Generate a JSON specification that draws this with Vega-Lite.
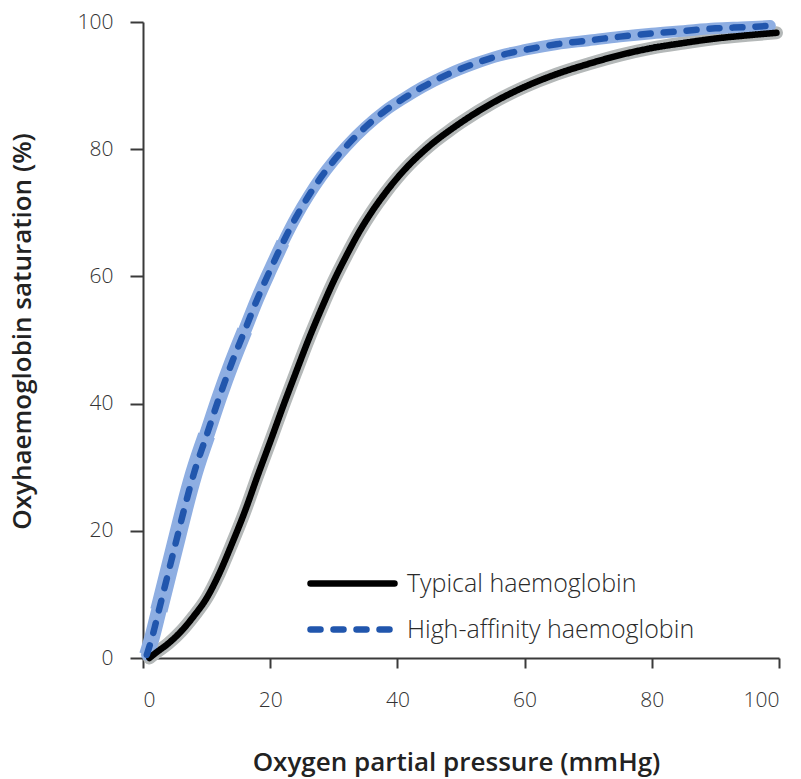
{
  "$schema": "https://vega.github.io/schema/vega-lite/v6.json",
  "width": 636,
  "height": 636,
  "autosize": {"type": "none"},
  "padding": {"left": 143, "top": 22, "right": 22, "bottom": 121},
  "background": "white",
  "config": {
    "view": {"stroke": null},
    "font": "Open Sans",
    "axis": {
      "grid": false,
      "domainColor": "#3a3a3a",
      "domainWidth": 2,
      "tickColor": "#3a3a3a",
      "tickWidth": 2,
      "labelColor": "#333333",
      "labelFont": "Open Sans",
      "labelFontSize": 21,
      "labelFontWeight": 300,
      "titleFont": "Open Sans",
      "titleFontSize": 26,
      "titleFontWeight": 600,
      "titleColor": "#222222"
    }
  },
  "data": {
    "values": [
      {"series": "Typical haemoglobin", "pO2": 1, "sat": 0},
      {"series": "Typical haemoglobin", "pO2": 2, "sat": 0.8},
      {"series": "Typical haemoglobin", "pO2": 4, "sat": 2.3},
      {"series": "Typical haemoglobin", "pO2": 6, "sat": 4.2},
      {"series": "Typical haemoglobin", "pO2": 8, "sat": 6.6},
      {"series": "Typical haemoglobin", "pO2": 10, "sat": 9.4},
      {"series": "Typical haemoglobin", "pO2": 12, "sat": 13.3},
      {"series": "Typical haemoglobin", "pO2": 14, "sat": 18},
      {"series": "Typical haemoglobin", "pO2": 16, "sat": 23},
      {"series": "Typical haemoglobin", "pO2": 18, "sat": 28.6},
      {"series": "Typical haemoglobin", "pO2": 20, "sat": 34},
      {"series": "Typical haemoglobin", "pO2": 22, "sat": 39.5},
      {"series": "Typical haemoglobin", "pO2": 24, "sat": 44.8},
      {"series": "Typical haemoglobin", "pO2": 26, "sat": 50},
      {"series": "Typical haemoglobin", "pO2": 28, "sat": 54.8},
      {"series": "Typical haemoglobin", "pO2": 30, "sat": 59.3},
      {"series": "Typical haemoglobin", "pO2": 32, "sat": 63.3},
      {"series": "Typical haemoglobin", "pO2": 34, "sat": 67},
      {"series": "Typical haemoglobin", "pO2": 36, "sat": 70.2},
      {"series": "Typical haemoglobin", "pO2": 38, "sat": 73},
      {"series": "Typical haemoglobin", "pO2": 40, "sat": 75.5},
      {"series": "Typical haemoglobin", "pO2": 42, "sat": 77.7},
      {"series": "Typical haemoglobin", "pO2": 44, "sat": 79.6},
      {"series": "Typical haemoglobin", "pO2": 46, "sat": 81.3},
      {"series": "Typical haemoglobin", "pO2": 48, "sat": 82.8},
      {"series": "Typical haemoglobin", "pO2": 50, "sat": 84.2},
      {"series": "Typical haemoglobin", "pO2": 55, "sat": 87.3},
      {"series": "Typical haemoglobin", "pO2": 60, "sat": 89.8},
      {"series": "Typical haemoglobin", "pO2": 65, "sat": 91.8},
      {"series": "Typical haemoglobin", "pO2": 70, "sat": 93.4},
      {"series": "Typical haemoglobin", "pO2": 75, "sat": 94.8},
      {"series": "Typical haemoglobin", "pO2": 80, "sat": 95.9},
      {"series": "Typical haemoglobin", "pO2": 85, "sat": 96.7},
      {"series": "Typical haemoglobin", "pO2": 90, "sat": 97.4},
      {"series": "Typical haemoglobin", "pO2": 95, "sat": 97.9},
      {"series": "Typical haemoglobin", "pO2": 99.6, "sat": 98.3},
      {"series": "High-affinity haemoglobin", "pO2": 0.6, "sat": 0.5},
      {"series": "High-affinity haemoglobin", "pO2": 1.5, "sat": 3.5},
      {"series": "High-affinity haemoglobin", "pO2": 2.5, "sat": 7.5},
      {"series": "High-affinity haemoglobin", "pO2": 3.5, "sat": 11.5},
      {"series": "High-affinity haemoglobin", "pO2": 4.5, "sat": 15.5},
      {"series": "High-affinity haemoglobin", "pO2": 5.5, "sat": 19.5},
      {"series": "High-affinity haemoglobin", "pO2": 6.5, "sat": 23.5},
      {"series": "High-affinity haemoglobin", "pO2": 8, "sat": 29},
      {"series": "High-affinity haemoglobin", "pO2": 10, "sat": 35},
      {"series": "High-affinity haemoglobin", "pO2": 12, "sat": 41},
      {"series": "High-affinity haemoglobin", "pO2": 14, "sat": 46.5},
      {"series": "High-affinity haemoglobin", "pO2": 16, "sat": 51.5},
      {"series": "High-affinity haemoglobin", "pO2": 18, "sat": 56.5},
      {"series": "High-affinity haemoglobin", "pO2": 20, "sat": 61},
      {"series": "High-affinity haemoglobin", "pO2": 22, "sat": 65.3},
      {"series": "High-affinity haemoglobin", "pO2": 24, "sat": 69.2},
      {"series": "High-affinity haemoglobin", "pO2": 26, "sat": 72.6},
      {"series": "High-affinity haemoglobin", "pO2": 28, "sat": 75.6},
      {"series": "High-affinity haemoglobin", "pO2": 30, "sat": 78.2},
      {"series": "High-affinity haemoglobin", "pO2": 32, "sat": 80.5},
      {"series": "High-affinity haemoglobin", "pO2": 35, "sat": 83.5},
      {"series": "High-affinity haemoglobin", "pO2": 38, "sat": 86},
      {"series": "High-affinity haemoglobin", "pO2": 41, "sat": 88},
      {"series": "High-affinity haemoglobin", "pO2": 44, "sat": 89.8},
      {"series": "High-affinity haemoglobin", "pO2": 48, "sat": 91.8},
      {"series": "High-affinity haemoglobin", "pO2": 52, "sat": 93.4},
      {"series": "High-affinity haemoglobin", "pO2": 56, "sat": 94.7},
      {"series": "High-affinity haemoglobin", "pO2": 60, "sat": 95.6},
      {"series": "High-affinity haemoglobin", "pO2": 65, "sat": 96.5},
      {"series": "High-affinity haemoglobin", "pO2": 70, "sat": 97.1},
      {"series": "High-affinity haemoglobin", "pO2": 75, "sat": 97.7},
      {"series": "High-affinity haemoglobin", "pO2": 80, "sat": 98.2},
      {"series": "High-affinity haemoglobin", "pO2": 85, "sat": 98.6},
      {"series": "High-affinity haemoglobin", "pO2": 90, "sat": 99},
      {"series": "High-affinity haemoglobin", "pO2": 95, "sat": 99.2},
      {"series": "High-affinity haemoglobin", "pO2": 98.6, "sat": 99.4}
    ]
  },
  "encoding": {
    "x": {
      "field": "pO2", "type": "quantitative",
      "scale": {"domain": [0, 100], "nice": false},
      "axis": {
        "title": "Oxygen partial pressure (mmHg)",
        "values": [0, 20, 40, 60, 80, 100],
        "tickSize": 10,
        "labelPadding": 21,
        "titleX": 313,
        "titleY": 104,
        "titleBaseline": "middle",
        "titleAlign": "center"
      }
    },
    "y": {
      "field": "sat", "type": "quantitative",
      "scale": {"domain": [0, 100], "nice": false},
      "axis": {
        "title": "Oxyhaemoglobin saturation (%)",
        "values": [0, 20, 40, 60, 80, 100],
        "tickSize": 13,
        "labelPadding": 17,
        "titleX": -121,
        "titleY": 309,
        "titleAngle": -90,
        "titleBaseline": "middle",
        "titleAlign": "center"
      }
    }
  },
  "layer": [
    {
      "transform": [{"filter": "datum.series === 'Typical haemoglobin'"}],
      "mark": {"type": "line", "interpolate": "monotone", "color": "#b4b8b8", "strokeWidth": 13, "strokeCap": "round"}
    },
    {
      "transform": [{"filter": "datum.series === 'High-affinity haemoglobin'"}],
      "mark": {"type": "line", "interpolate": "monotone", "color": "#8eaee2", "strokeWidth": 11.5, "strokeCap": "round"}
    },
    {
      "transform": [{"filter": "datum.series === 'High-affinity haemoglobin' && datum.pO2 <= 22"}],
      "mark": {"type": "line", "interpolate": "monotone", "color": "#8eaee2", "strokeWidth": 13.5, "strokeCap": "butt"}
    },
    {
      "transform": [{"filter": "datum.series === 'High-affinity haemoglobin' && datum.pO2 <= 16"}],
      "mark": {"type": "line", "interpolate": "monotone", "color": "#8eaee2", "strokeWidth": 15.5, "strokeCap": "butt"}
    },
    {
      "transform": [{"filter": "datum.series === 'High-affinity haemoglobin' && datum.pO2 <= 10 && datum.pO2 >= 2"}],
      "mark": {"type": "line", "interpolate": "monotone", "color": "#8eaee2", "strokeWidth": 17.5, "strokeCap": "butt"}
    },
    {
      "mark": {"type": "line", "interpolate": "monotone", "strokeWidth": 6.5, "strokeCap": "round"},
      "encoding": {
        "color": {
          "field": "series", "type": "nominal",
          "scale": {"domain": ["Typical haemoglobin", "High-affinity haemoglobin"], "range": ["#000000", "#2156ad"]},
          "legend": {
            "title": null,
            "orient": "none",
            "legendX": 192,
            "legendY": 544,
            "symbolType": "M-3,0H3",
            "symbolSize": 784,
            "symbolStrokeWidth": 6.5,
            "labelFontSize": 25,
            "labelFont": "Open Sans",
            "labelFontWeight": 300,
            "labelColor": "#2a2a2a",
            "labelOffset": 37,
            "labelLimit": 0,
            "rowPadding": 15,
            "encode": {"symbols": {"update": {"strokeCap": {"value": "round"}}}}
          }
        },
        "strokeDash": {
          "field": "series", "type": "nominal",
          "scale": {"domain": ["Typical haemoglobin", "High-affinity haemoglobin"], "range": [[1, 0], [10, 13]]},
          "legend": null
        }
      }
    }
  ]
}
